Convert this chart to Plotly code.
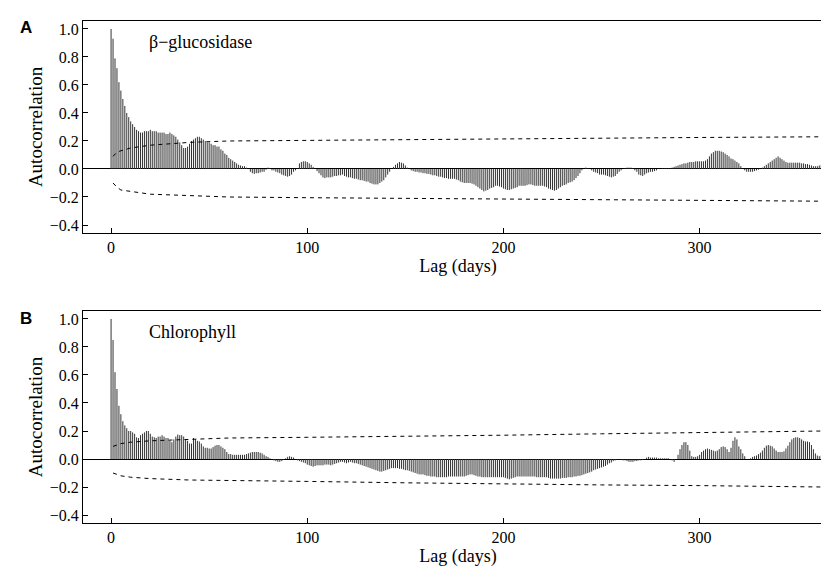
import plotly.graph_objects as go

# ---- data ----
acf_glu = [
    1.0, 0.93, 0.79, 0.72, 0.62, 0.56, 0.5, 0.45, 0.4, 0.37,
    0.34, 0.32, 0.3, 0.28, 0.27, 0.26, 0.26, 0.27, 0.27, 0.27,
    0.28, 0.27, 0.27, 0.27, 0.26, 0.26, 0.26, 0.26, 0.25, 0.25,
    0.26, 0.25, 0.24, 0.23, 0.21, 0.19, 0.17, 0.15, 0.15, 0.16,
    0.18, 0.2, 0.21, 0.22, 0.23, 0.23, 0.22, 0.21, 0.2, 0.19,
    0.19, 0.18, 0.17, 0.17, 0.16, 0.16, 0.14, 0.13, 0.11, 0.1,
    0.08, 0.07, 0.06, 0.05, 0.04, 0.03, 0.025, 0.02, 0.02, 0.01,
    0.0, -0.02, -0.03, -0.035, -0.03, -0.03, -0.025, -0.02, -0.02, -0.005,
    0.01, 0.005, -0.01, -0.01, -0.02, -0.025, -0.03, -0.04, -0.045, -0.05,
    -0.055, -0.05, -0.04, -0.02, -0.01, 0.0, 0.04, 0.05, 0.055, 0.055,
    0.05, 0.04, 0.03, 0.015, 0.0, -0.015, -0.03, -0.045, -0.06, -0.065,
    -0.06, -0.06, -0.06, -0.055, -0.05, -0.05, -0.045, -0.045, -0.04, -0.05,
    -0.055, -0.06, -0.06, -0.065, -0.07, -0.07, -0.075, -0.08, -0.08, -0.085,
    -0.09, -0.09, -0.1, -0.105, -0.11, -0.11, -0.11, -0.1, -0.09, -0.08,
    -0.06, -0.04, -0.02, 0.0, 0.015, 0.03, 0.04, 0.05, 0.045, 0.04,
    0.025, 0.01, 0.0, -0.01, -0.015, -0.02, -0.02, -0.025, -0.025, -0.03,
    -0.03, -0.035, -0.035, -0.04, -0.045, -0.045, -0.05, -0.055, -0.055, -0.06,
    -0.065, -0.065, -0.07, -0.07, -0.07, -0.07, -0.075, -0.08, -0.09, -0.095,
    -0.1, -0.1, -0.1, -0.1, -0.105, -0.11, -0.12, -0.13, -0.14, -0.15,
    -0.16, -0.155, -0.15, -0.14, -0.135, -0.13, -0.12, -0.12, -0.125, -0.13,
    -0.14, -0.145, -0.15, -0.15, -0.145, -0.14, -0.135, -0.13, -0.12, -0.12,
    -0.12, -0.12, -0.115, -0.11, -0.11, -0.115, -0.12, -0.12, -0.12, -0.12,
    -0.12, -0.125, -0.13, -0.14, -0.145, -0.15, -0.155, -0.15, -0.14, -0.13,
    -0.12, -0.115, -0.11, -0.1, -0.095, -0.09, -0.08, -0.065, -0.05, -0.03,
    -0.01, 0.0, 0.01, 0.005, 0.0, -0.01, -0.02, -0.025, -0.03, -0.04,
    -0.04, -0.04, -0.045, -0.05, -0.055, -0.06, -0.055, -0.05, -0.035, -0.02,
    -0.01, 0.0, 0.005, 0.01, 0.01, 0.01, 0.005, -0.01, -0.02, -0.04,
    -0.045, -0.05, -0.04, -0.03, -0.025, -0.02, -0.02, -0.015, -0.01, 0.0,
    0.0, 0.005, 0.005, 0.005, 0.005, 0.005, 0.01, 0.015, 0.02, 0.025,
    0.03, 0.035, 0.04, 0.04, 0.045, 0.05, 0.05, 0.05, 0.055, 0.055,
    0.055, 0.055, 0.055, 0.06, 0.07, 0.09, 0.11, 0.12, 0.13, 0.13,
    0.13, 0.125, 0.12, 0.11, 0.1, 0.09, 0.075, 0.07, 0.06, 0.05,
    0.04, 0.02, 0.0, -0.01, -0.02, -0.02, -0.02, -0.02, -0.015, -0.01,
    -0.005, 0.0, 0.01, 0.02, 0.03, 0.04, 0.05, 0.06, 0.07, 0.08,
    0.09, 0.08, 0.07, 0.06, 0.05, 0.045, 0.045, 0.045, 0.045, 0.045,
    0.045, 0.045, 0.04, 0.04, 0.035, 0.035, 0.03, 0.025, 0.02, 0.02,
    0.02, 0.025, 0.03, 0.04,
]

acf_chl = [
    1.0, 0.85, 0.62, 0.5, 0.38, 0.32, 0.27, 0.24, 0.22, 0.2,
    0.2, 0.19, 0.18, 0.155, 0.15, 0.17, 0.18, 0.19, 0.2, 0.2,
    0.18, 0.16, 0.155, 0.15, 0.16, 0.16, 0.17, 0.16, 0.15, 0.15,
    0.13, 0.12, 0.14, 0.16, 0.175, 0.17, 0.17, 0.16, 0.14, 0.13,
    0.11, 0.11, 0.15, 0.14, 0.13, 0.125, 0.11, 0.09, 0.08, 0.08,
    0.075, 0.075, 0.085, 0.095, 0.1, 0.1, 0.09, 0.08, 0.07, 0.05,
    0.035, 0.035, 0.03, 0.03, 0.03, 0.03, 0.03, 0.03, 0.03, 0.035,
    0.04, 0.045, 0.05, 0.05, 0.05, 0.05, 0.045, 0.04, 0.03, 0.02,
    0.015, 0.005, 0.0, -0.01, -0.015, -0.02, -0.02, -0.015, -0.005, 0.005,
    0.015, 0.02, 0.015, 0.01, 0.0, -0.01, -0.015, -0.02, -0.025, -0.03,
    -0.04, -0.045, -0.05, -0.055, -0.05, -0.045, -0.045, -0.045, -0.045, -0.04,
    -0.04, -0.04, -0.045, -0.04, -0.035, -0.03, -0.025, -0.02, -0.02, -0.025,
    -0.03, -0.025, -0.02, -0.025, -0.03, -0.03, -0.035, -0.04, -0.045, -0.05,
    -0.055, -0.06, -0.065, -0.07, -0.075, -0.08, -0.085, -0.09, -0.09, -0.085,
    -0.08, -0.075, -0.07, -0.065, -0.065, -0.065, -0.065, -0.07, -0.07, -0.075,
    -0.08, -0.08, -0.085, -0.09, -0.095, -0.1, -0.105, -0.11, -0.11, -0.11,
    -0.115, -0.12, -0.12, -0.125, -0.125, -0.125, -0.13, -0.13, -0.13, -0.13,
    -0.13, -0.13, -0.125, -0.125, -0.125, -0.125, -0.125, -0.125, -0.125, -0.125,
    -0.125, -0.12, -0.115, -0.11, -0.11, -0.115, -0.12, -0.125, -0.125, -0.13,
    -0.13, -0.13, -0.13, -0.13, -0.13, -0.13, -0.13, -0.13, -0.13, -0.13,
    -0.13, -0.135, -0.14, -0.145, -0.14, -0.135, -0.13, -0.125, -0.125, -0.125,
    -0.125, -0.125, -0.125, -0.125, -0.125, -0.125, -0.125, -0.13, -0.13, -0.13,
    -0.13, -0.13, -0.13, -0.135, -0.14, -0.14, -0.14, -0.14, -0.14, -0.14,
    -0.135, -0.135, -0.135, -0.13, -0.13, -0.13, -0.125, -0.125, -0.12, -0.12,
    -0.115, -0.11, -0.105, -0.1, -0.095, -0.09, -0.08, -0.075, -0.07, -0.065,
    -0.06, -0.055, -0.05, -0.04, -0.03, -0.025, -0.015, -0.01, -0.005, -0.005,
    -0.005, -0.01, -0.01, -0.015, -0.02, -0.02, -0.02, -0.015, -0.015, -0.01,
    -0.01, -0.005, 0.0, 0.01, 0.015, 0.01, 0.01, 0.01, 0.01, 0.005,
    0.005, 0.005, 0.005, 0.005, 0.005, 0.0, -0.01, -0.02, 0.0, 0.03,
    0.07, 0.1, 0.12, 0.12, 0.1, 0.06, 0.02, 0.015, 0.015, 0.02,
    0.03, 0.05, 0.06, 0.07, 0.075, 0.07, 0.065, 0.06, 0.055, 0.06,
    0.07, 0.085, 0.09, 0.085, 0.07, 0.05, 0.08, 0.13, 0.155, 0.14,
    0.09, 0.07, 0.04, 0.02, 0.0, 0.0, 0.005, 0.015, 0.02, 0.025,
    0.035, 0.045, 0.06, 0.08, 0.095, 0.1, 0.095, 0.09, 0.075, 0.06,
    0.05, 0.05, 0.05, 0.055, 0.075, 0.095, 0.12, 0.14, 0.15, 0.155,
    0.155, 0.15, 0.14, 0.13, 0.125, 0.125, 0.12, 0.1, 0.07, 0.04,
    0.025, 0.02, 0.025, 0.02,
]

# confidence limits (dashed), read at a few lags
ci_lags = [1, 3, 5, 10, 20, 40, 60, 100, 150, 200, 250, 300, 363]
ci_glu_up = [0.09, 0.12, 0.13, 0.15, 0.17, 0.19, 0.2, 0.205, 0.21, 0.215, 0.22, 0.225, 0.23]
ci_glu_lo = [-0.1, -0.13, -0.15, -0.16, -0.18, -0.19, -0.2, -0.205, -0.21, -0.215, -0.22, -0.225, -0.23]
ci_chl_up = [0.09, 0.1, 0.11, 0.12, 0.13, 0.14, 0.15, 0.155, 0.16, 0.17, 0.18, 0.19, 0.2]
ci_chl_lo = [-0.1, -0.11, -0.12, -0.13, -0.14, -0.15, -0.155, -0.16, -0.17, -0.18, -0.185, -0.19, -0.2]

SERIF = "Liberation Serif, Times New Roman, serif"
BAR_COLOR = "#333333"


def spikes(values):
    # vertical spike per lag: (lag, 0) -> (lag, acf), separated by gaps
    xs, ys = [], []
    for lag, v in enumerate(values):
        xs += [lag, lag, None]
        ys += [0, v, None]
    return xs, ys


fig = go.Figure()

panels = [
    ("x", "y", acf_glu, ci_glu_up, ci_glu_lo),
    ("x2", "y2", acf_chl, ci_chl_up, ci_chl_lo),
]
for xa, ya, acf, up, lo in panels:
    sx, sy = spikes(acf)
    fig.add_trace(go.Scatter(x=sx, y=sy, mode="lines", line=dict(color=BAR_COLOR, width=1),
                             xaxis=xa, yaxis=ya, showlegend=False, connectgaps=False))
    for band in (up, lo):
        fig.add_trace(go.Scatter(x=ci_lags, y=band, mode="lines", line=dict(color="black", width=1, dash="4px,4px"),
                                 xaxis=xa, yaxis=ya, showlegend=False))

xcommon = dict(range=[-14.3, 368], showline=True, mirror=True, linecolor="black", linewidth=1,
               ticks="inside", ticklen=5, tickcolor="black", tickvals=[0, 100, 200, 300],
               showgrid=False, zeroline=False, tickfont=dict(family=SERIF, size=16, color="black"),
               title=dict(text="Lag (days)", font=dict(family=SERIF, size=18, color="black"), standoff=2))
ycommon = dict(range=[-0.457, 1.057], showline=True, mirror=True, linecolor="black", linewidth=1,
               ticks="inside", ticklen=5, tickcolor="black", tickvals=[-0.4, -0.2, 0, 0.2, 0.4, 0.6, 0.8, 1.0],
               tickformat=".1f", showgrid=False, zeroline=True, zerolinecolor="black", zerolinewidth=1,
               tickfont=dict(family=SERIF, size=16, color="black"),
               title=dict(text="Autocorrelation", font=dict(family=SERIF, size=19, color="black"), standoff=2))

fig.update_layout(
    width=829, height=569,
    margin=dict(l=0, r=0, t=0, b=0),
    plot_bgcolor="white", paper_bgcolor="white",
    xaxis=dict(xcommon, domain=[0.0905, 0.9952], anchor="y"),
    yaxis=dict(ycommon, domain=[0.6046, 0.9772], anchor="x"),
    xaxis2=dict(xcommon, domain=[0.0905, 0.9952], anchor="y2"),
    yaxis2=dict(ycommon, domain=[0.0949, 0.4675], anchor="x2"),
)

for label, txt, y_lbl, y_txt in [("A", "β−glucosidase", 0.965, 0.94), ("B", "Chlorophyll", 0.455, 0.43)]:
    fig.add_annotation(xref="paper", yref="paper", x=0.022, y=y_lbl, text=f"<b>{label}</b>", showarrow=False,
                       xanchor="center", yanchor="middle", font=dict(family="Liberation Sans, Arial", size=17, color="black"))
    fig.add_annotation(xref="paper", yref="paper", x=0.168, y=y_txt, text=txt, showarrow=False,
                       xanchor="left", yanchor="middle", font=dict(family=SERIF, size=18, color="black"))

fig.write_html("out.html")
